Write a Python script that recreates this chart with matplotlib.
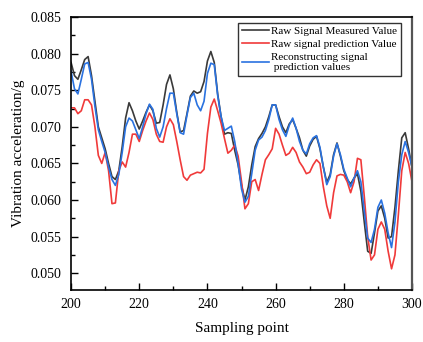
import matplotlib
matplotlib.use("Agg")
import matplotlib.pyplot as plt
from matplotlib.ticker import MultipleLocator
import numpy as np

plt.rcParams['font.family'] = ['Liberation Serif', 'DejaVu Serif']
plt.rcParams['mathtext.fontset'] = 'stix'

x_start = 200
measured = [0.0788, 0.0770, 0.0765, 0.0778, 0.0792, 0.0796, 0.0770, 0.0735, 0.0700, 0.0685,
            0.0670, 0.0650, 0.0632, 0.0628, 0.0640, 0.0673, 0.0712, 0.0733, 0.0722, 0.0708,
            0.0697, 0.0708, 0.0720, 0.0730, 0.0722, 0.0705, 0.0706, 0.0730, 0.0758, 0.0771,
            0.0752, 0.0720, 0.0693, 0.0695, 0.0718, 0.0742, 0.0749, 0.0746, 0.0748, 0.0762,
            0.0790, 0.0803, 0.0788, 0.0745, 0.0714, 0.0690, 0.0692, 0.0691, 0.0668, 0.0648,
            0.0620, 0.0600, 0.0618, 0.0648, 0.0673, 0.0684, 0.0691, 0.0700, 0.0714, 0.0730,
            0.0730, 0.0714, 0.0700, 0.0692, 0.0704, 0.0710, 0.0698, 0.0685, 0.0668, 0.0660,
            0.0674, 0.0683, 0.0687, 0.0670, 0.0645, 0.0624, 0.0635, 0.0662, 0.0678, 0.0660,
            0.0640, 0.0628, 0.0622, 0.0630, 0.0636, 0.0612, 0.0570, 0.0530, 0.0527, 0.0555,
            0.0585, 0.0592, 0.0575, 0.0548, 0.0550, 0.0590, 0.0640, 0.0685, 0.0692, 0.0670,
            0.0645]
raw_pred = [0.0726, 0.0726, 0.0718, 0.0722, 0.0737, 0.0737, 0.0730, 0.0700, 0.0661, 0.0650,
            0.0665, 0.0640, 0.0595, 0.0596, 0.0640, 0.0652, 0.0645, 0.0665, 0.0690, 0.0690,
            0.0680, 0.0695, 0.0708, 0.0719, 0.0710, 0.0690, 0.0680, 0.0679, 0.0700, 0.0711,
            0.0703, 0.0680, 0.0655, 0.0632, 0.0627, 0.0634, 0.0636, 0.0638, 0.0637, 0.0642,
            0.0691, 0.0727, 0.0738, 0.0722, 0.0705, 0.0684, 0.0664, 0.0668, 0.0675, 0.0660,
            0.0625, 0.0588, 0.0595, 0.0625, 0.0628, 0.0613, 0.0635, 0.0655, 0.0662, 0.0670,
            0.0698, 0.0690, 0.0675, 0.0661, 0.0664, 0.0672, 0.0665, 0.0652, 0.0645, 0.0636,
            0.0638, 0.0648, 0.0655, 0.0650, 0.0618, 0.0592, 0.0575, 0.0610, 0.0633, 0.0635,
            0.0634, 0.0625, 0.0610, 0.0625, 0.0657, 0.0655, 0.0605, 0.0550, 0.0518, 0.0525,
            0.0560, 0.0570, 0.0560, 0.0530, 0.0506, 0.0525, 0.0580, 0.0640, 0.0665, 0.0650,
            0.0625]
recon_pred = [0.0776, 0.0752, 0.0745, 0.0765, 0.0786, 0.0788, 0.0765, 0.0728, 0.0696, 0.0680,
              0.0665, 0.0645, 0.0628, 0.0620, 0.0635, 0.0665, 0.0700, 0.0712, 0.0708, 0.0696,
              0.0684, 0.0700, 0.0718, 0.0731, 0.0724, 0.0698, 0.0686, 0.0700, 0.0725, 0.0746,
              0.0746, 0.0718, 0.0692, 0.0690, 0.0716, 0.0740, 0.0746, 0.0730, 0.0722, 0.0735,
              0.0773, 0.0787, 0.0785, 0.0743, 0.0714, 0.0695, 0.0698, 0.0701, 0.0680, 0.0650,
              0.0615, 0.0597, 0.0605, 0.0636, 0.0668, 0.0682, 0.0686, 0.0695, 0.0710, 0.0730,
              0.0730, 0.0710, 0.0696, 0.0687, 0.0702, 0.0712, 0.0698, 0.0680, 0.0668, 0.0663,
              0.0677, 0.0685, 0.0688, 0.0672, 0.0645, 0.0621, 0.0632, 0.0660, 0.0677, 0.0662,
              0.0642, 0.0630, 0.0618, 0.0630, 0.0640, 0.0625, 0.0585, 0.0548, 0.0542, 0.0560,
              0.0590, 0.0600, 0.0582, 0.0555, 0.0535, 0.0570, 0.0625, 0.0662, 0.0680, 0.0665,
              0.0645]
labels = ["Raw Signal Measured Value", "Raw signal prediction Value",
          "Reconstructing signal\n prediction values"]
xticks = [200, 220, 240, 260, 280, 300]
yticks = [0.050, 0.055, 0.060, 0.065, 0.070, 0.075, 0.080, 0.085]

x = np.arange(x_start, x_start + len(measured))

fig = plt.figure(figsize=(4.23, 3.42), dpi=100)
ax = fig.add_axes([0.168, 0.152, 0.806, 0.798])

ax.plot(x, measured, color='#3a3a3a', lw=1.2, label=labels[0])
ax.plot(x, raw_pred, color='#f03a3a', lw=1.2, label=labels[1])
ax.plot(x, recon_pred, color='#2a72e0', lw=1.2, label=labels[2])

ax.set_xlim(200, 300)
ax.set_ylim(0.0477, 0.085)
ax.set_xticks(xticks)
ax.set_yticks(yticks)
ax.set_yticklabels([f"{v:.3f}" for v in yticks])
ax.xaxis.set_minor_locator(MultipleLocator(10))
ax.yaxis.set_minor_locator(MultipleLocator(0.0025))
ax.tick_params(which='both', direction='in', top=False, right=False, labelsize=10, width=1)
ax.tick_params(which='major', length=5)
ax.tick_params(which='minor', length=3)
ax.tick_params(axis='y', pad=7)
ax.tick_params(axis='x', pad=6)
for s in ['left', 'bottom', 'top']:
    ax.spines[s].set_linewidth(1.2)
    ax.spines[s].set_color('black')
ax.spines['right'].set_linewidth(1.6)
ax.spines['right'].set_color('#555555')

ax.set_xlabel("Sampling point", fontsize=11, labelpad=8)
ax.set_ylabel("Vibration acceleration/g", fontsize=11, labelpad=4)

leg = ax.legend(loc='upper right', bbox_to_anchor=(0.967, 0.98), fontsize=8,
                frameon=True, fancybox=False, handlelength=2.4, handletextpad=0.2,
                borderpad=0.35, labelspacing=0.3, borderaxespad=0)
leg.get_frame().set_edgecolor('black')
leg.get_frame().set_linewidth(1.0)

fig.savefig("out.png", dpi=100)
